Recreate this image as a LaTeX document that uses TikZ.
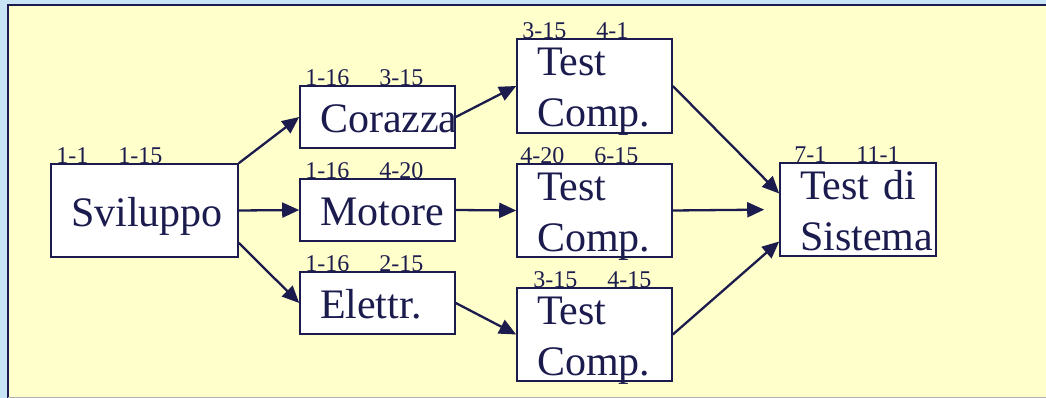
\documentclass[tikz,border=0pt]{standalone}
\usepackage{fontspec}
\setmainfont{Liberation Serif}
\usetikzlibrary{arrows.meta,positioning}
\usepackage{xcolor}
\definecolor{navycustom}{RGB}{27,27,78}
\definecolor{yellowcustom}{RGB}{255,255,204}
\definecolor{skycustom}{RGB}{200,228,246}
\hyphenpenalty=10000
\exhyphenpenalty=10000

\begin{document}
\begin{tikzpicture}[x=1pt, y=-1pt,
    task/.style={draw=navycustom, fill=white, line width=1.6pt, rectangle, inner xsep=20pt, inner ysep=0pt, text width=115pt, minimum height=62pt, align=left, text=navycustom, font=\fontsize{42}{51}\selectfont, text height=36pt, text depth=5pt},
    testbox/.style={task, minimum height=93pt, text depth=56pt},
    dates/.style={anchor=base west, inner sep=0pt, text=navycustom, font=\fontsize{24}{24}\selectfont},
    link/.style={draw=navycustom, line width=2.3pt, -{Triangle[length=17pt, width=15pt]}}]
    \useasboundingbox (0,0) rectangle (1046,398);
    % slide background
    \fill[skycustom] (0,0) rectangle (1046,398);
    \draw[navycustom, line width=2pt, fill=yellowcustom] (8,5) rectangle (1060,402);
    \draw[gray!60, line width=1pt] (8,397.5) -- (1046,397.5);

    % tasks
    \node[task, text width=147pt, minimum height=93pt] (svil) at (144.5,210.5) {Sviluppo};
    \node[task] (cor) at (377.5,117) {Corazza};
    \node[task] (mot) at (377.5,210) {Motore};
    \node[task] (ele) at (377.5,303) {Elettr.};
    \node[testbox, minimum height=94pt] (tcor) at (594.5,86) {Test\\Comp.};
    \node[testbox] (tmot) at (594.5,210.5) {Test\\Comp.};
    \node[testbox] (tele) at (594.5,334.5) {Test\\Comp.};
    \node[testbox, text width=116pt] (sis) at (858,209.5) {Test~di\\Sistema};

    % start and end dates
    \node[dates] (svil-d) at ([xshift=6pt]svil.north west) {1-1\hspace{30pt}1-15};
    \node[dates] (cor-d) at ([xshift=6pt]cor.north west) {1-16\hspace{30pt}3-15};
    \node[dates] (mot-d) at ([xshift=6pt]mot.north west) {1-16\hspace{30pt}4-20};
    \node[dates] (ele-d) at ([xshift=6pt]ele.north west) {1-16\hspace{30pt}2-15};
    \node[dates] (tcor-d) at ([xshift=6pt]tcor.north west) {3-15\hspace{30pt}4-1};
    \node[dates] (tmot-d) at ([xshift=4pt]tmot.north west) {4-20\hspace{30pt}6-15};
    \node[dates] (tele-d) at ([xshift=17pt]tele.north west) {3-15\hspace{30pt}4-15};
    \node[dates] (sis-d) at ([xshift=15pt]sis.north west) {7-1\hspace{30pt}11-1};

    % links
    \draw[link] (svil.north east) -- (cor.west);
    \draw[link] (svil.east) -- (mot.west);
    \draw[link] ([yshift=15pt]svil.south east) -- (ele.west);
    \draw[link] (cor.east) -- (tcor.west);
    \draw[link] (mot.east) -- (tmot.west);
    \draw[link] (ele.east) -- (tele.west);
    \draw[link] (tcor.east) -- ([yshift=16pt]sis.west);
    \draw[link, shorten >=15pt] (tmot.east) -- (sis.west);
    \draw[link] (tele.east) -- ([yshift=-32pt]sis.west);
\end{tikzpicture}
\end{document}
